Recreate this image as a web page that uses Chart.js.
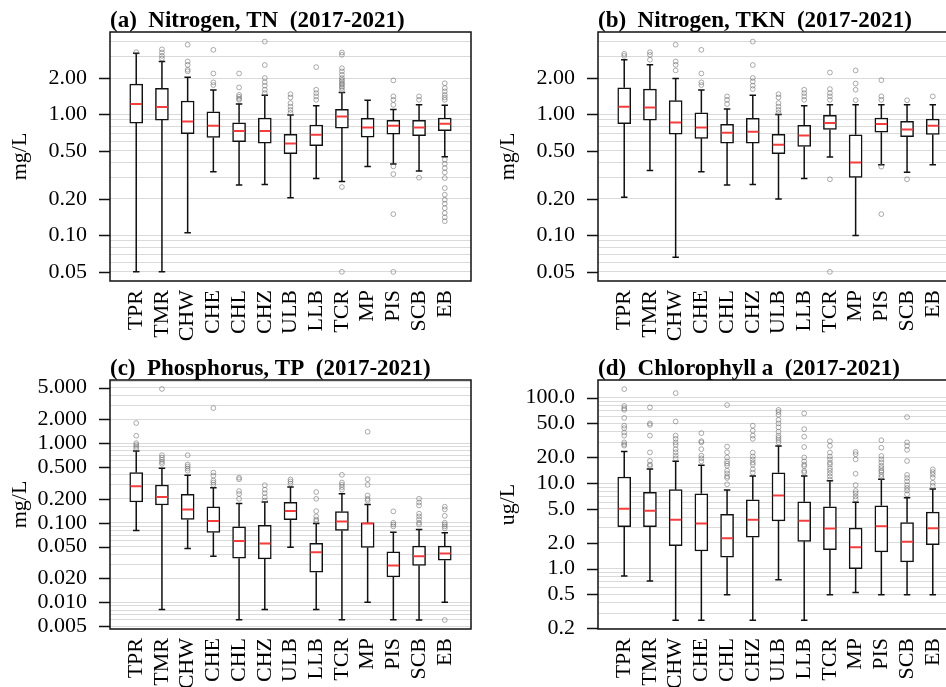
<!DOCTYPE html>
<html><head><meta charset="utf-8">
<script src="https://cdn.jsdelivr.net/npm/chart.js@4/dist/chart.umd.min.js"></script>
<style>
html,body{margin:0;padding:0;background:#fff;overflow:hidden;width:946px;height:687px;position:relative;}
canvas{position:absolute;}
</style></head><body>
<canvas id="c0" width="480" height="345" style="left:0;top:0"></canvas>
<canvas id="c1" width="480" height="345" style="left:488px;top:0"></canvas>
<canvas id="c2" width="480" height="345" style="left:0;top:348px"></canvas>
<canvas id="c3" width="480" height="345" style="left:488px;top:348px"></canvas>
<script>
const categories = ['TPR','TMR','CHW','CHE','CHL','CHZ','ULB','LLB','TCR','MP','PIS','SCB','EB'];

// (a) Nitrogen, TN
const tnLow  = [0.05, 0.05, 0.105, 0.336, 0.261, 0.264, 0.205, 0.296, 0.279, 0.372, 0.389, 0.340, 0.447];
const tnQ1   = [0.848, 0.898, 0.692, 0.645, 0.594, 0.580, 0.473, 0.551, 0.771, 0.650, 0.688, 0.667, 0.733];
const tnMed  = [1.22, 1.15, 0.875, 0.806, 0.728, 0.728, 0.576, 0.679, 0.963, 0.781, 0.806, 0.781, 0.837];
const tnQ3   = [1.78, 1.64, 1.29, 1.05, 0.853, 0.933, 0.684, 0.816, 1.10, 0.927, 0.892, 0.892, 0.933];
const tnHigh = [3.21, 2.74, 2.03, 1.59, 1.22, 1.44, 0.987, 1.18, 1.52, 1.31, 1.10, 1.20, 1.19];
const tnOut  = [
  [3.27],
  [3.45, 3.25, 3.05, 2.9],
  [3.77, 2.74, 2.57, 2.34, 2.27],
  [3.42, 2.18, 1.84, 1.75],
  [2.18, 1.67, 1.45, 1.40, 1.35, 1.32],
  [4.0, 2.56, 2.0, 1.85, 1.73, 1.6, 1.5],
  [1.47, 1.38, 1.24, 1.16, 1.09, 1.03],
  [2.46, 1.6, 1.5, 1.41, 1.32],
  [3.25, 3.11, 2.41, 2.27, 2.13, 2.0, 1.93, 1.87, 1.8, 1.76, 1.7, 1.65, 1.58, 0.251, 0.05],
  [],
  [1.91, 1.41, 1.32, 1.2, 0.372, 0.321, 0.150, 0.05],
  [1.41, 1.32, 0.300],
  [1.81, 1.65, 1.55, 1.45, 1.38, 1.32, 0.422, 0.391, 0.36, 0.332, 0.298, 0.246, 0.217, 0.197, 0.183, 0.168, 0.153, 0.141, 0.131]
];

// (b) Nitrogen, TKN
const tknLow  = [0.207, 0.344, 0.066, 0.336, 0.261, 0.264, 0.200, 0.296, 0.444, 0.100, 0.384, 0.332, 0.384];
const tknQ1   = [0.837, 0.898, 0.688, 0.634, 0.580, 0.580, 0.473, 0.544, 0.752, 0.302, 0.714, 0.654, 0.684];
const tknMed  = [1.16, 1.14, 0.859, 0.781, 0.706, 0.719, 0.561, 0.671, 0.848, 0.401, 0.832, 0.752, 0.806];
const tknQ3   = [1.66, 1.62, 1.30, 1.03, 0.827, 0.927, 0.684, 0.811, 0.981, 0.679, 0.933, 0.875, 0.915];
const tknHigh = [2.83, 2.57, 1.98, 1.59, 1.11, 1.44, 1.0, 1.18, 1.20, 1.20, 1.20, 1.20, 1.20];
const tknOut  = [
  [3.17, 3.05],
  [3.27, 3.11, 2.83],
  [3.77, 2.74, 2.57, 2.31],
  [3.42, 2.18, 1.84, 1.75],
  [1.41, 1.32, 1.22],
  [4.0, 2.56, 2.0, 1.87, 1.73, 1.62],
  [1.47, 1.38, 1.24, 1.16, 1.09, 1.03],
  [1.6, 1.5, 1.41, 1.32],
  [2.22, 1.62, 1.5, 1.41, 1.32, 0.291, 0.05],
  [2.31, 1.80, 1.6, 1.31],
  [1.92, 1.41, 1.32, 0.37, 0.15],
  [1.31, 0.291],
  [1.41]
];

// (c) Phosphorus, TP
const tpLow  = [0.080, 0.0081, 0.0475, 0.038, 0.00605, 0.0081, 0.0493, 0.0081, 0.00605, 0.010, 0.00605, 0.006, 0.010];
const tpQ1   = [0.182, 0.167, 0.110, 0.0755, 0.0359, 0.0352, 0.109, 0.0239, 0.080, 0.049, 0.0209, 0.029, 0.0338];
const tpMed  = [0.287, 0.211, 0.147, 0.105, 0.0588, 0.0548, 0.140, 0.0427, 0.104, 0.098, 0.029, 0.038, 0.041];
const tpQ3   = [0.427, 0.298, 0.228, 0.158, 0.089, 0.0925, 0.180, 0.055, 0.138, 0.100, 0.043, 0.0508, 0.0508];
const tpHigh = [0.80, 0.484, 0.395, 0.276, 0.174, 0.182, 0.281, 0.098, 0.232, 0.169, 0.0762, 0.0824, 0.0748];
const tpOut  = [
  [1.79, 1.24, 1.0, 0.95, 0.9, 0.85],
  [4.8, 0.706, 0.66, 0.62, 0.58, 0.55],
  [0.706, 0.54, 0.51, 0.48, 0.45],
  [2.76, 0.427, 0.39, 0.34, 0.32, 0.30],
  [0.369, 0.352, 0.25, 0.23, 0.20],
  [0.296, 0.26, 0.235, 0.21, 0.19],
  [0.35, 0.33, 0.31],
  [0.243, 0.20, 0.14, 0.12, 0.11, 0.105],
  [0.40, 0.32, 0.30, 0.28, 0.26],
  [1.39, 0.352, 0.30, 0.22, 0.20, 0.19],
  [0.139, 0.10, 0.095, 0.09],
  [0.20, 0.18, 0.165, 0.13, 0.12, 0.11, 0.10, 0.095],
  [0.159, 0.147, 0.122, 0.10, 0.095, 0.09, 0.085, 0.006]
];

// (d) Chlorophyll a
const chlLow  = [0.82, 0.72, 0.25, 0.25, 0.495, 0.25, 0.74, 0.25, 0.495, 0.527, 0.495, 0.495, 0.495];
const chlQ1   = [3.09, 3.11, 1.86, 1.61, 1.36, 2.33, 3.63, 2.09, 1.67, 1.0, 1.57, 1.2, 1.91];
const chlMed  = [5.02, 4.75, 3.73, 3.38, 2.27, 3.73, 7.2, 3.63, 2.95, 1.78, 3.14, 2.07, 2.98];
const chlQ3   = [11.8, 7.8, 8.39, 7.53, 4.31, 6.4, 13.2, 6.06, 5.3, 2.98, 5.44, 3.47, 4.59];
const chlHigh = [23.4, 14.7, 18.0, 16.2, 8.3, 12.1, 27.3, 12.1, 10.7, 6.0, 11.1, 6.76, 8.55];
const chlOut  = [
  [126, 80, 75, 72, 58, 47, 44, 39, 36, 30, 28.5, 27.5],
  [77, 50, 48, 36, 22.9, 18.2, 16.5, 15.9],
  [113, 52.7, 36, 33, 30, 28, 25, 23, 21, 19.5],
  [38.5, 31, 30, 25, 21, 19.5, 18],
  [82, 26.8, 23, 20, 18, 17, 16, 14, 13, 12, 11.5, 9.7],
  [47, 41, 36, 33, 22.8, 20.5, 19, 17.5, 16.5, 14.5, 13.3],
  [72, 68, 63, 55, 50, 45, 40, 36, 34, 32, 30],
  [65.5, 42.9, 35, 26.5, 20, 18, 16.5, 15.8, 13.9, 13.3],
  [31, 27.3, 22.8, 20.5, 19, 17.4, 16.5, 15, 14, 13, 12, 11],
  [23.2, 21.8, 19, 12.9, 9.5, 8.1, 7.6, 7, 6.5],
  [31.8, 26, 20.8, 19, 17.5, 16, 15, 14, 13.5, 12.5, 11.8],
  [59.3, 30, 27.3, 24.5, 18.2, 12.5, 11.5, 10.5, 9.5, 8.8, 8.2, 7.4],
  [14.5, 13.5, 12.6, 11.6, 10.1, 9.3]
];

// tick labels
const nTicks   = [0.05, 0.1, 0.2, 0.5, 1, 2];
const tpTicks  = [0.005, 0.01, 0.02, 0.05, 0.1, 0.2, 0.5, 1, 2, 5];
const chlTicks = [0.2, 0.5, 1, 2, 5, 10, 20, 50, 100];

const FONT = "'Liberation Serif', 'Times New Roman', serif";

const panels = [
  {id:'c0', title:'(a)  Nitrogen, TN  (2017-2021)', unit:'mg/L', low:tnLow, q1:tnQ1, med:tnMed, q3:tnQ3, high:tnHigh, out:tnOut, min:0.042, max:4.8, labels:nTicks, digits:2},
  {id:'c1', title:'(b)  Nitrogen, TKN  (2017-2021)', unit:'mg/L', low:tknLow, q1:tknQ1, med:tknMed, q3:tknQ3, high:tknHigh, out:tknOut, min:0.042, max:4.8, labels:nTicks, digits:2},
  {id:'c2', title:'(c)  Phosphorus, TP  (2017-2021)', unit:'mg/L', low:tpLow, q1:tpQ1, med:tpMed, q3:tpQ3, high:tpHigh, out:tpOut, min:0.00462, max:6.22, labels:tpTicks, digits:3},
  {id:'c3', title:'(d)  Chlorophyll a  (2017-2021)', unit:'ug/L', low:chlLow, q1:chlQ1, med:chlMed, q3:chlQ3, high:chlHigh, out:chlOut, min:0.197, max:161, labels:chlTicks, digits:1}
];

function gridValues(min, max){
  const vals = [];
  for (let k = -4; k <= 3; k++) for (let m = 1; m <= 9; m++) {
    const v = parseFloat(m + 'e' + k);
    if (v >= min && v <= max) vals.push(v);
  }
  return vals;
}
const isLabeled = (list, v) => list.some(t => Math.abs(t - v) / t < 1e-9);

const BOXW = 13;
const TICKLEN = 11;

function makeDecor(p) {
  return {
    id: 'boxDecor_' + p.id,
    beforeDatasetsDraw(chart) {
      const x = chart.scales.x, y = chart.scales.y, ctx = chart.ctx;
      ctx.save();
      ctx.strokeStyle = '#111';
      ctx.lineWidth = 1.5;
      ctx.beginPath();
      p.low.forEach((lo, i) => {
        const cx = x.getPixelForValue(i + 1);
        const yl = y.getPixelForValue(lo), yh = y.getPixelForValue(p.high[i]);
        ctx.moveTo(cx, y.getPixelForValue(p.q1[i])); ctx.lineTo(cx, yl);
        ctx.moveTo(cx, y.getPixelForValue(p.q3[i])); ctx.lineTo(cx, yh);
        ctx.moveTo(cx - BOXW / 4, yl); ctx.lineTo(cx + BOXW / 4, yl);
        ctx.moveTo(cx - BOXW / 4, yh); ctx.lineTo(cx + BOXW / 4, yh);
      });
      ctx.stroke();
      ctx.restore();
    },
    afterDatasetsDraw(chart) {
      const x = chart.scales.x, y = chart.scales.y, ctx = chart.ctx;
      ctx.save();
      ctx.strokeStyle = 'rgb(244,62,62)';
      ctx.lineWidth = 2;
      ctx.beginPath();
      p.med.forEach((m, i) => {
        const cx = x.getPixelForValue(i + 1), ym = y.getPixelForValue(m);
        ctx.moveTo(cx - BOXW / 2 + 0.8, ym); ctx.lineTo(cx + BOXW / 2 - 0.8, ym);
      });
      ctx.stroke();
      ctx.restore();
    },
    afterDraw(chart) {
      const y = chart.scales.y, ctx = chart.ctx, a = chart.chartArea;
      ctx.save();
      ctx.strokeStyle = '#111';
      ctx.lineWidth = 1.5;
      ctx.strokeRect(a.left, a.top, a.right - a.left, a.bottom - a.top);
      ctx.lineWidth = 1.6;
      ctx.beginPath();
      p.labels.forEach(t => {
        const yy = Math.round(y.getPixelForValue(t)) + 0.5;
        ctx.moveTo(a.left - TICKLEN, yy); ctx.lineTo(a.left, yy);
      });
      ctx.stroke();
      ctx.fillStyle = '#000';
      ctx.font = 'bold 23px ' + FONT;
      ctx.textAlign = 'left';
      ctx.textBaseline = 'alphabetic';
      ctx.fillText(p.title, a.left, a.top - 5);
      ctx.restore();
    }
  };
}

panels.forEach(p => {
  const gv = gridValues(p.min, p.max);
  const outPts = [];
  p.out.forEach((arr, i) => arr.forEach(v => outPts.push({x: i + 1, y: v})));
  new Chart(document.getElementById(p.id), {
    type: 'bar',
    data: {
      datasets: [
        {
          type: 'scatter',
          data: outPts,
          pointRadius: 2.4,
          pointBorderWidth: 0.9,
          pointBorderColor: 'rgba(100,100,100,0.6)',
          pointBackgroundColor: 'rgba(0,0,0,0)',
          order: 0
        },
        {
          type: 'bar',
          data: categories.map((c, i) => ({x: i + 1, y: [p.q1[i], p.q3[i]]})),
          backgroundColor: '#fff',
          borderColor: '#111',
          borderWidth: 1.5,
          borderSkipped: false,
          barThickness: BOXW,
          grouped: false,
          order: 1
        }
      ]
    },
    options: {
      responsive: false,
      animation: false,
      events: [],
      layout: {padding: {left: 0, top: 32, right: 9, bottom: 0}},
      plugins: {
        legend: {display: false},
        tooltip: {enabled: false},
        title: {display: false}
      },
      scales: {
        x: {
          type: 'linear', min: -0.02, max: 14.02, offset: false,
          grid: {display: false, drawTicks: false},
          border: {display: false},
          afterBuildTicks: s => { s.ticks = categories.map((c, i) => ({value: i + 1})); },
          afterFit: s => { s.height = 64; s.paddingLeft = 0; s.paddingRight = 0; s.paddingTop = 0; s.paddingBottom = 0; },
          ticks: {
            autoSkip: false, maxRotation: 90, minRotation: 90, padding: 9, color: '#000',
            font: {family: FONT, size: 22},
            callback: v => categories[Math.round(v) - 1] || ''
          }
        },
        y: {
          type: 'logarithmic', min: p.min, max: p.max,
          afterBuildTicks: s => { s.ticks = gv.map(v => ({value: v})); },
          afterFit: s => { s.width = 110; s.paddingTop = 0; s.paddingBottom = 0; s.paddingLeft = 0; s.paddingRight = 0; },
          grid: {color: '#dadada', lineWidth: 1, drawTicks: false},
          border: {display: false},
          ticks: {
            autoSkip: false, padding: 23, color: '#000',
            font: {family: FONT, size: 22},
            callback: v => isLabeled(p.labels, v) ? v.toFixed(p.digits) : ''
          },
          title: {display: true, text: p.unit, color: '#000', font: {family: FONT, size: 22}, padding: {top: 7, bottom: 0}}
        }
      }
    },
    plugins: [makeDecor(p)]
  });
});
</script>
</body></html>
